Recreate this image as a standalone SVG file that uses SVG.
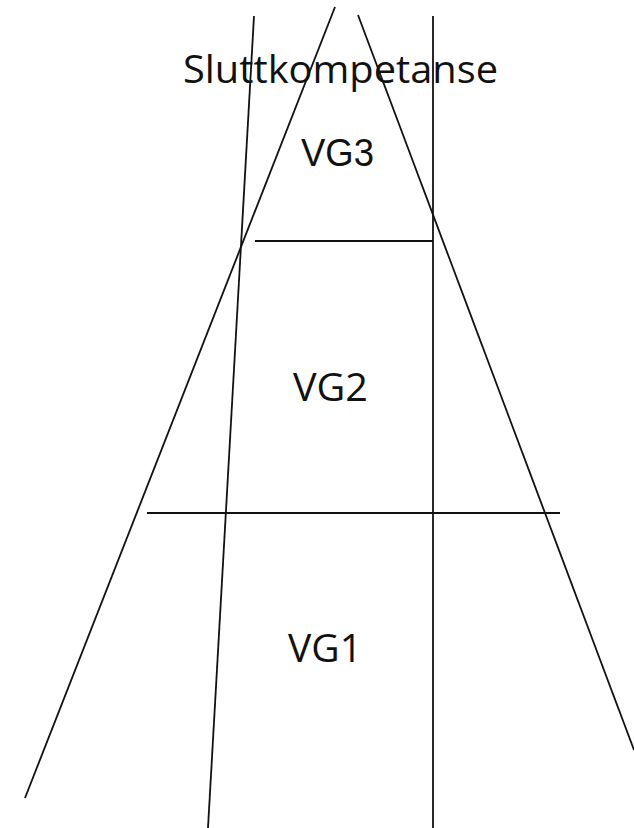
<svg xmlns="http://www.w3.org/2000/svg" width="634" height="828" viewBox="0 0 634 828">
<style>
.ln{stroke:#111;stroke-width:1.8;fill:none;stroke-linecap:butt}
.cal{font-family:"Open Sans","Liberation Sans",sans-serif;fill:#111}
.ar{font-family:"Liberation Sans",Arial,sans-serif;fill:#111}
</style>
<rect width="634" height="828" fill="#fff"/>
<g id="connectors">
<line class="ln" x1="335" y1="7" x2="25" y2="798"/>
<line class="ln" x1="358" y1="15" x2="634" y2="750"/>
<line class="ln" x1="254" y1="16" x2="208" y2="828"/>
<line class="ln" x1="433" y1="16" x2="433" y2="828"/>
<line class="ln" x1="255" y1="241" x2="433" y2="241"/>
<line class="ln" x1="147" y1="513" x2="560" y2="513"/>
</g>
<g id="sluttkompetanse"><text class="cal" x="183" y="83" font-size="38" textLength="315" lengthAdjust="spacingAndGlyphs">Sluttkompetanse</text></g>
<g id="vg3"><text class="ar" x="301" y="166" font-size="38" textLength="73" lengthAdjust="spacingAndGlyphs">VG3</text></g>
<g id="vg2"><text class="cal" x="293" y="401" font-size="39" textLength="75" lengthAdjust="spacingAndGlyphs">VG2</text></g>
<g id="vg1"><text class="cal" x="288" y="662" font-size="39" textLength="74" lengthAdjust="spacingAndGlyphs">VG1</text></g>
</svg>
